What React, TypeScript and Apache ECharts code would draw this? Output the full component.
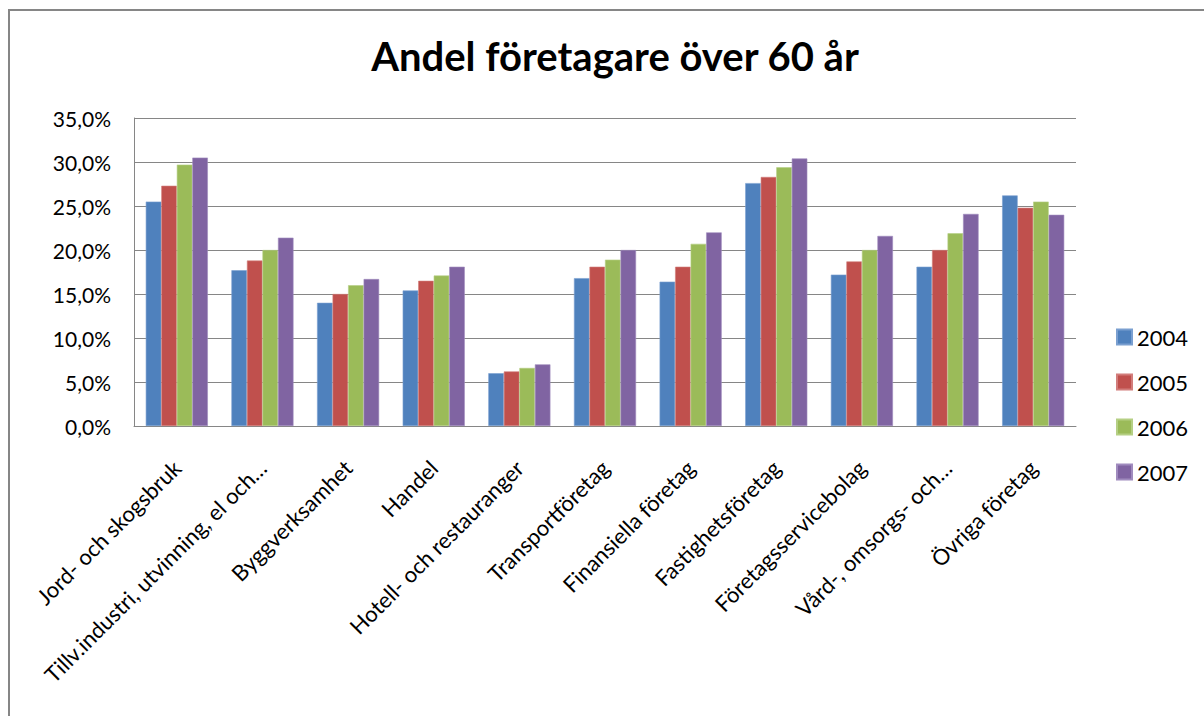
import React, { useEffect, useRef } from "react";
import * as echarts from "echarts";

const categories = [
  "Jord- och skogsbruk",
  "Tillv.industri, utvinning, el och…",
  "Byggverksamhet",
  "Handel",
  "Hotell- och restauranger",
  "Transportföretag",
  "Finansiella företag",
  "Fastighetsföretag",
  "Företagsservicebolag",
  "Vård-, omsorgs- och…",
  "Övriga företag",
];

const years = ["2004", "2005", "2006", "2007"];
const v2004 = [25.5, 17.7, 14.0, 15.4, 6.0, 16.8, 16.4, 27.6, 17.2, 18.1, 26.2];
const v2005 = [27.3, 18.8, 15.0, 16.5, 6.2, 18.1, 18.1, 28.3, 18.7, 20.0, 24.8];
const v2006 = [29.7, 20.0, 16.0, 17.1, 6.6, 18.9, 20.7, 29.4, 20.0, 21.9, 25.5];
const v2007 = [30.5, 21.4, 16.7, 18.1, 7.0, 20.0, 22.0, 30.4, 21.6, 24.1, 24.0];
const seriesValues = [v2004, v2005, v2006, v2007];
const colors = ["#4F81BD", "#C0504D", "#9BBB59", "#8064A2"];
const borderColors = ["#7A9FD0", "#D27D7B", "#B5CF84", "#A08BBE"];

const FONT = "Lato, 'Open Sans', sans-serif";

export default function App() {
  const ref = useRef<HTMLDivElement>(null);
  useEffect(() => {
    if (!ref.current) return;
    const chart = echarts.init(ref.current, undefined, { renderer: "svg" });
    chart.setOption({
      animation: false,
      backgroundColor: "#fff",
      title: {
        text: "Andel företagare över 60 år",
        left: 610,
        textAlign: "center",
        top: 31,
        textStyle: { fontFamily: FONT, fontWeight: "bold", fontSize: 40, color: "#000" },
      },
      legend: {
        orient: "vertical",
        left: 1111,
        top: 321,
        itemWidth: 15,
        itemHeight: 15,
        itemGap: 23,
        icon: "rect",
        data: years,
        textStyle: { fontFamily: FONT, fontSize: 22, color: "#000" },
      },
      grid: { left: 134, right: 128, top: 118, bottom: 290, containLabel: false },
      xAxis: {
        type: "category",
        data: categories,
        axisLine: { lineStyle: { color: "#868686", width: 1 } },
        axisTick: { show: false },
        axisLabel: {
          interval: 0,
          rotate: 45,
          margin: 38,
          fontFamily: FONT,
          fontSize: 22,
          color: "#000",
        },
      },
      yAxis: {
        type: "value",
        min: 0,
        max: 35,
        interval: 5,
        axisLine: { show: true, lineStyle: { color: "#868686", width: 1 } },
        axisTick: { show: false },
        splitLine: { lineStyle: { color: "#868686", width: 1 } },
        axisLabel: {
          margin: 23,
          fontFamily: FONT,
          fontSize: 21,
          color: "#000",
          formatter: (v: number) => v.toFixed(1).replace(".", ",") + "%",
        },
      },
      series: years.map((y, i) => ({
        name: y,
        type: "bar",
        data: seriesValues[i],
        barGap: "0%",
        barCategoryGap: "27.5%",
        itemStyle: { color: colors[i], borderColor: borderColors[i], borderWidth: 0.6 },
      })),
      graphic: [
        {
          type: "rect",
          shape: { x: 9, y: 10, width: 1400, height: 900 },
          style: { fill: "none", stroke: "#868686", lineWidth: 2 },
          silent: true,
        },
      ],
    });
    return () => chart.dispose();
  }, []);
  return (
    <div
      ref={ref}
      style={{ position: "fixed", left: 0, top: 0, width: 1204, height: 716 }}
    />
  );
}
